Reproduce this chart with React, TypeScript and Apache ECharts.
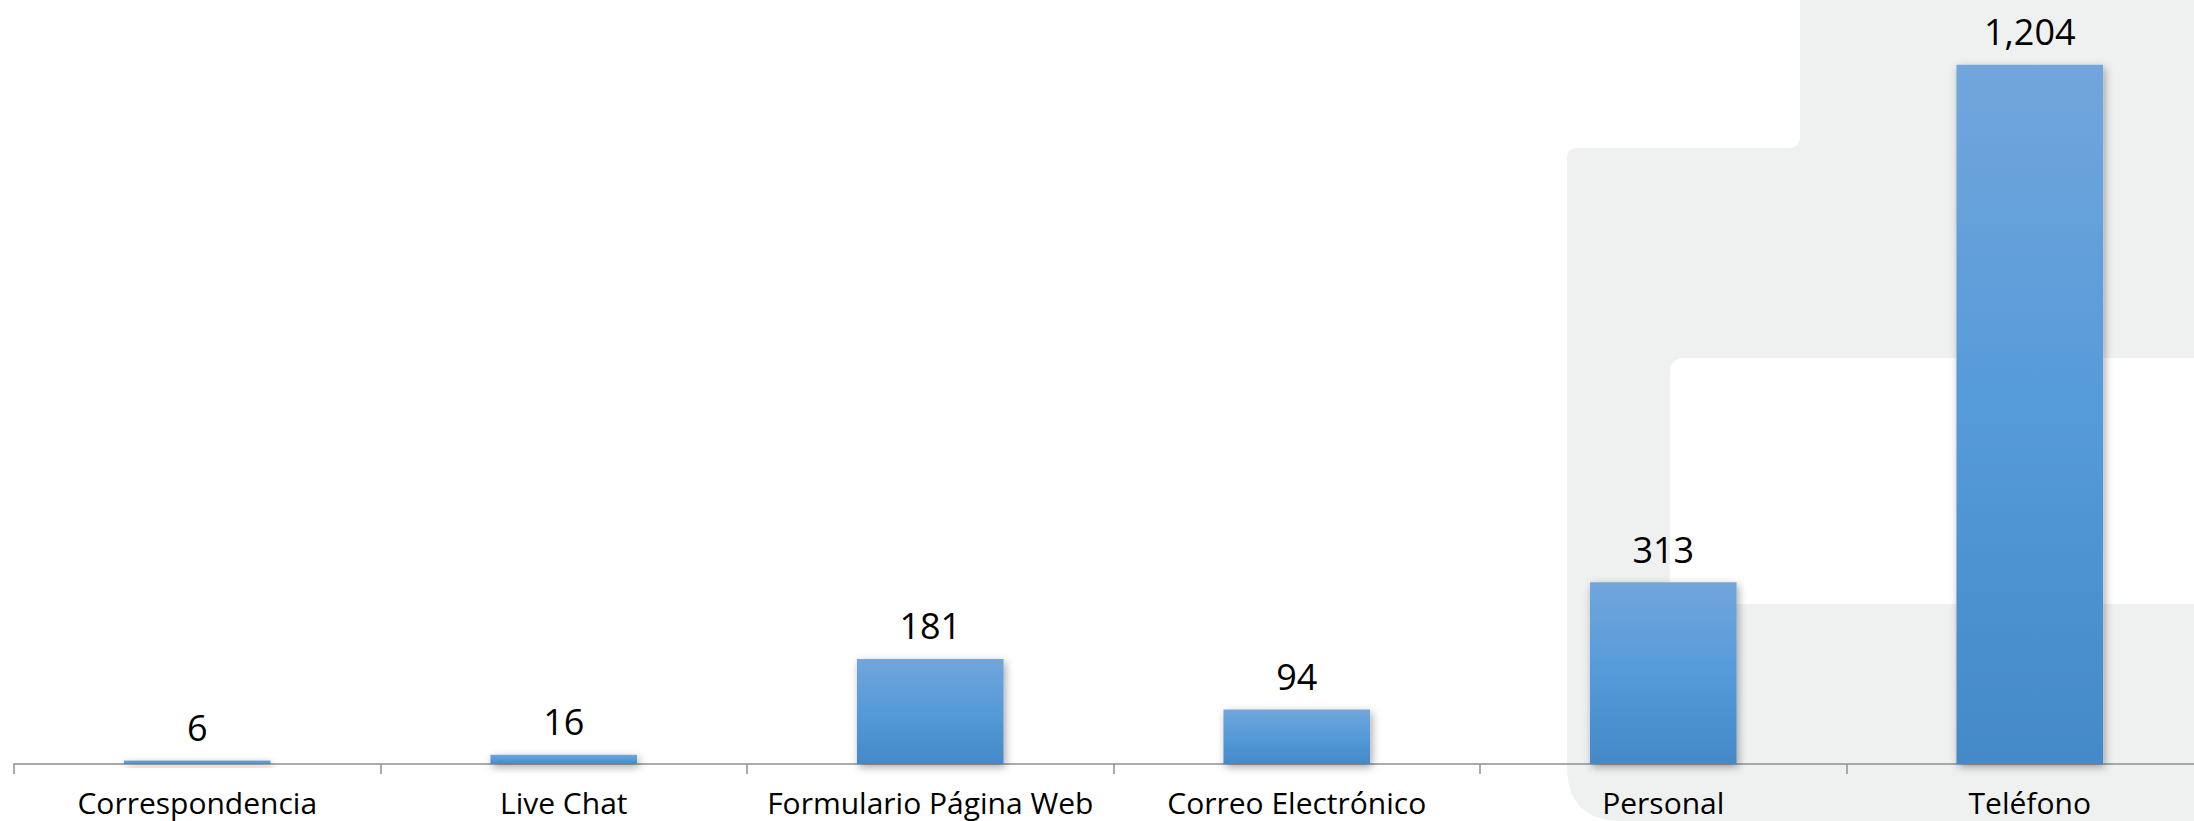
import React, { useEffect, useRef } from "react";
import * as echarts from "echarts";

const categories = [
  "Correspondencia",
  "Live Chat",
  "Formulario Página Web",
  "Correo Electrónico",
  "Personal",
  "Teléfono",
];
const values = [6, 16, 181, 94, 313, 1204];

const LOGO_PATH =
  "M 1800 0 H 2194 V 358 H 1685 Q 1670 358 1670 373 V 604 H 2194 V 821 H 1622 Q 1567 821 1567 766 V 158 Q 1567 148 1577 148 H 1788 Q 1800 148 1800 136 Z";

let registered = false;
function ensureShape() {
  if (registered) return;
  echarts.graphic.registerShape("logo", echarts.graphic.extendPath(LOGO_PATH, {}) as any);
  registered = true;
}

export default function App() {
  const ref = useRef<HTMLDivElement>(null);
  useEffect(() => {
    if (!ref.current) return;
    ensureShape();
    const chart = echarts.init(ref.current, undefined, { renderer: "svg" });
    const font = "'Open Sans', sans-serif";
    chart.setOption({
      animation: false,
      backgroundColor: "#ffffff",
      graphic: {
        elements: [
          {
            type: "logo",
            x: 0,
            y: 0,
            z: -100,
            silent: true,
            style: { fill: "#eff1f1" },
          },
        ],
      },
      grid: { left: 14, right: 7, top: 9, bottom: 57, containLabel: false },
      xAxis: {
        type: "category",
        data: categories,
        boundaryGap: true,
        axisLine: { show: true, lineStyle: { color: "#8f8f8f", width: 1.5 } },
        axisTick: { show: true, interval: 0, length: 10, lineStyle: { color: "#8f8f8f", width: 1.5 } },
        axisLabel: {
          interval: 0,
          margin: 23,
          color: "#000000",
          fontSize: 30,
          lineHeight: 30,
          fontFamily: font,
        },
        splitLine: { show: false },
      },
      yAxis: {
        type: "value",
        min: 0,
        max: 1300,
        show: false,
        splitLine: { show: false },
      },
      series: [
        {
          type: "bar",
          data: values,
          barWidth: "40%",
          itemStyle: {
            color: new echarts.graphic.LinearGradient(0, 0, 0, 1, [
              { offset: 0, color: "#72a6dc" },
              { offset: 0.5, color: "#559ad9" },
              { offset: 1, color: "#4489c8" },
            ]),
            shadowColor: "rgba(0,0,0,0.35)",
            shadowBlur: 8,
            shadowOffsetX: 2,
            shadowOffsetY: 3,
          },
          label: {
            show: true,
            position: "top",
            distance: 15,
            color: "#000000",
            fontSize: 36,
            fontFamily: font,
            formatter: (p: any) => Number(p.value).toLocaleString("en-US"),
          },
        },
      ],
    });
    return () => chart.dispose();
  }, []);
  return (
    <div
      style={{
        position: "fixed",
        left: 0,
        top: 0,
        width: 2194,
        height: 821,
        overflow: "hidden",
        background: "#ffffff",
      }}
    >
      <div ref={ref} style={{ width: 2220, height: 821 }} />
    </div>
  );
}
